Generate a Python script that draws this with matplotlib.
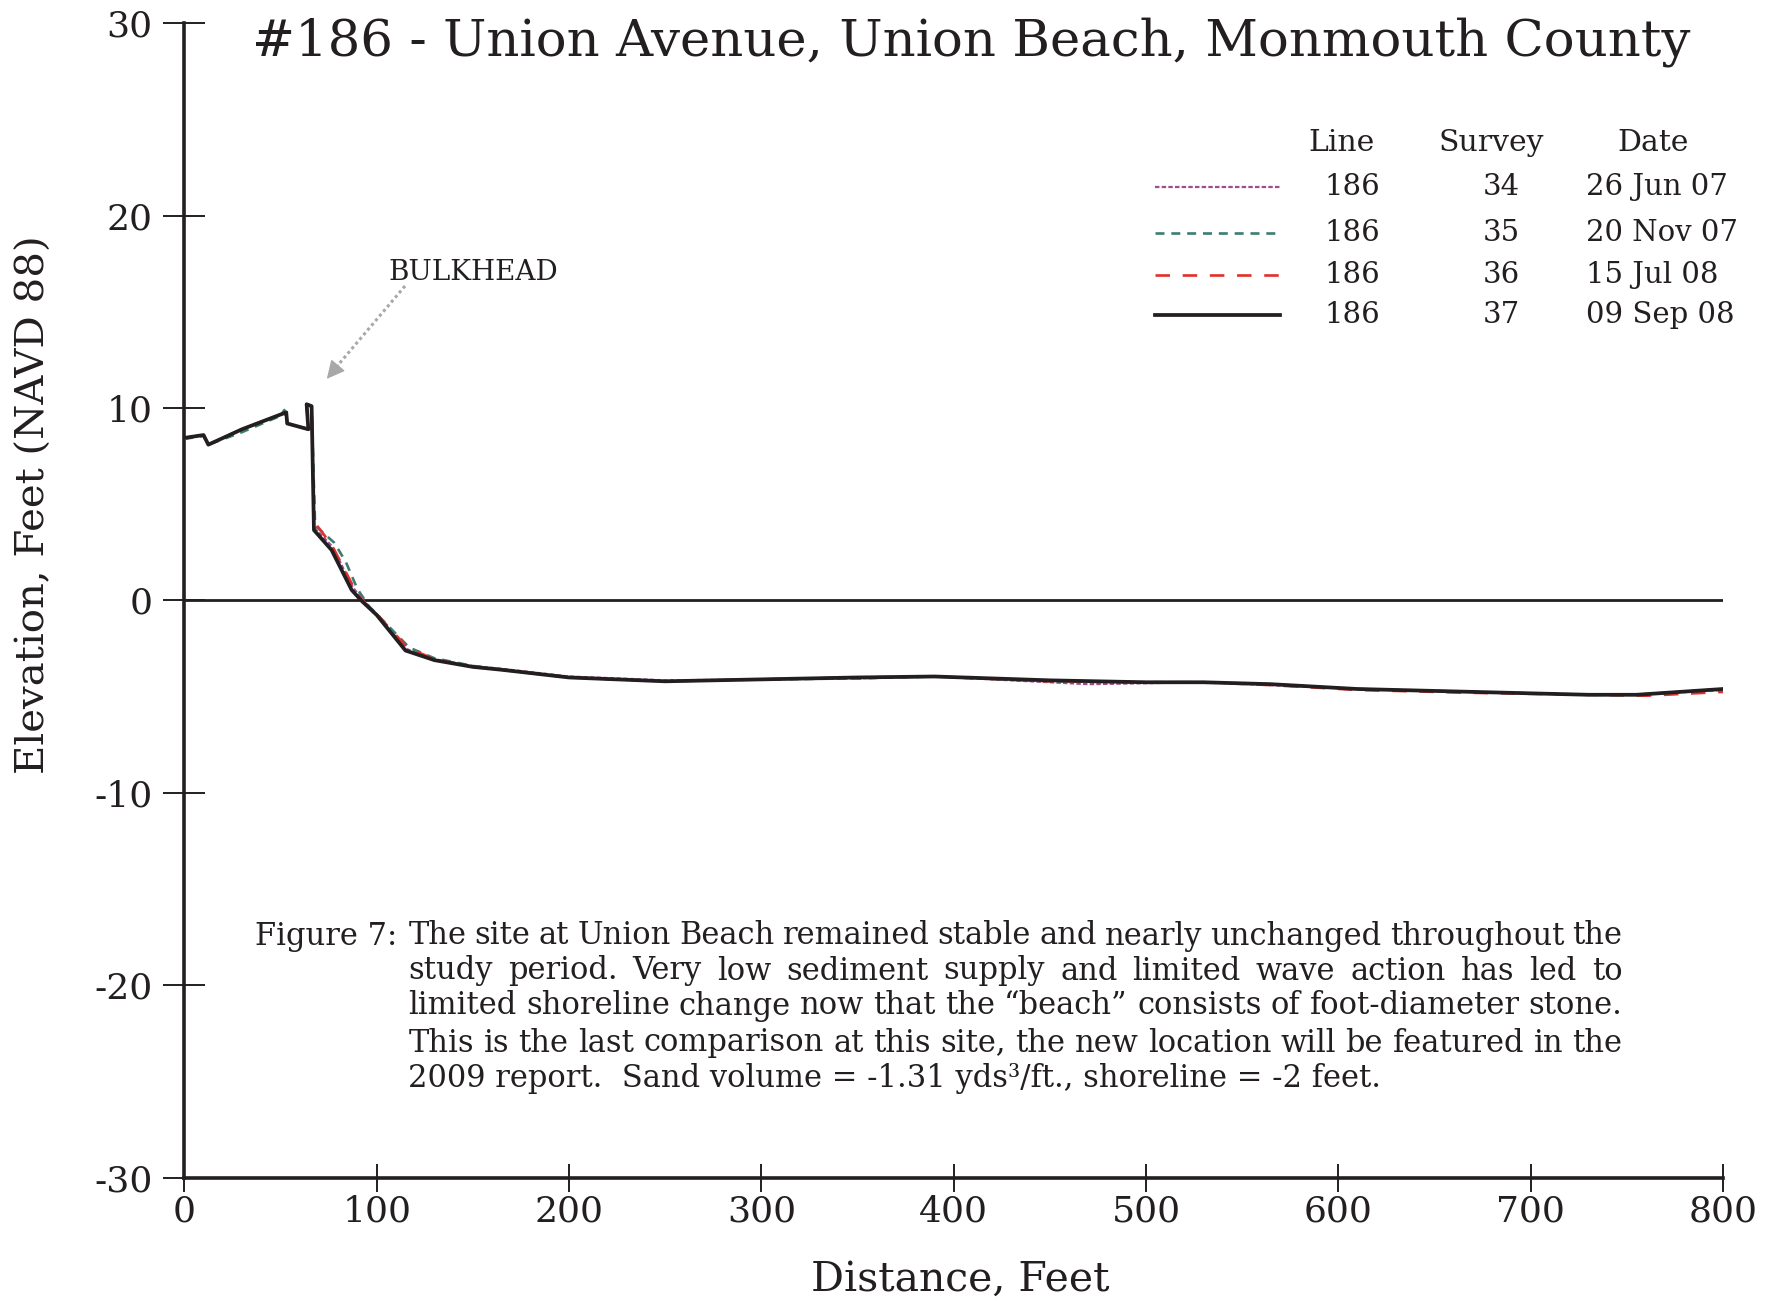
import matplotlib
matplotlib.use("Agg")
import matplotlib.pyplot as plt
from matplotlib.lines import Line2D

plt.rcParams['font.family'] = ['DejaVu Serif']
plt.rcParams['axes.unicode_minus'] = False

# survey profiles, line 186 (distance ft, elevation ft NAVD88)
x34 = [0, 10, 12.5, 30, 53, 53.5, 64.5, 63.6, 66.2, 67.4, 77, 87.5, 93, 100, 115, 130, 150, 165, 200,
       250, 300, 350, 390, 440, 470, 500, 530, 565, 610, 670, 730, 755, 800]
y34 = [8.45, 8.6, 8.1, 8.9, 9.78, 9.2, 8.9, 10.2, 10.1, 3.8, 2.8, 0.7, 0.0, -0.7, -2.5, -3.05, -3.4, -3.55, -3.95,
       -4.15, -4.1, -4.05, -3.95, -4.2, -4.35, -4.3, -4.25, -4.4, -4.6, -4.75, -4.9, -4.9, -4.65]

x35 = [0, 10, 12.5, 30, 50, 52, 53.5, 64.5, 63.6, 66.2, 68, 78, 84, 90, 96, 100, 117, 130, 150, 165, 200,
       250, 300, 350, 390, 450, 500, 530, 565, 610, 670, 730, 755, 800]
y35 = [8.4, 8.55, 8.1, 8.75, 9.6, 9.9, 9.2, 8.9, 10.2, 10.1, 3.9, 3.0, 2.0, 0.6, -0.3, -0.7, -2.45, -3.0, -3.4, -3.6, -4.0,
       -4.2, -4.1, -4.05, -3.95, -4.2, -4.25, -4.25, -4.35, -4.6, -4.75, -4.9, -4.9, -4.6]

x36 = [0, 10, 12.5, 30, 53, 53.5, 64.5, 63.6, 66.2, 67.4, 76.6, 87.5, 92.5, 100, 116, 130, 150, 165, 200,
       250, 300, 350, 390, 450, 500, 530, 565, 610, 670, 730, 760, 800]
y36 = [8.45, 8.6, 8.1, 8.9, 9.78, 9.2, 8.9, 10.2, 10.1, 4.1, 2.9, 0.8, 0.0, -0.7, -2.45, -3.05, -3.45, -3.6, -4.0,
       -4.2, -4.1, -4.0, -3.95, -4.2, -4.25, -4.25, -4.4, -4.65, -4.8, -4.9, -4.95, -4.75]

x37 = [0, 10, 12.5, 30, 53, 53.5, 64.5, 63.6, 66.2, 67.4, 76.6, 87, 92, 100, 115, 130, 150, 165, 200,
       250, 300, 350, 390, 450, 500, 530, 565, 610, 670, 730, 755, 800]
y37 = [8.45, 8.6, 8.1, 8.9, 9.78, 9.2, 8.9, 10.2, 10.1, 3.66, 2.62, 0.55, 0.0, -0.75, -2.6, -3.1, -3.45, -3.6, -4.0,
       -4.2, -4.1, -4.0, -3.95, -4.15, -4.25, -4.25, -4.35, -4.6, -4.75, -4.9, -4.9, -4.6]

lines = ["186", "186", "186", "186"]
surveys = ["34", "35", "36", "37"]
dates = ["26 Jun 07", "20 Nov 07", "15 Jul 08", "09 Sep 08"]

xticks = [0, 100, 200, 300, 400, 500, 600, 700, 800]
yticks = [-30, -20, -10, 0, 10, 20, 30]

caption_lines = [
    "The site at Union Beach remained stable and nearly unchanged throughout the",
    "study period.  Very low sediment supply and limited wave action has led to",
    "limited shoreline change now that the \u201cbeach\u201d consists of foot-diameter stone.",
    "This is the last comparison at this site, the new location will be featured in the",
    "2009 report.  Sand volume = -1.31 yds\u00b3/ft., shoreline = -2 feet.",
]

ink = "#231F20"
styles = [
    dict(color="#9E4D8E", lw=1.6, dashes=(2.0, 1.0)),
    dict(color="#3E7C72", lw=1.9, dashes=(3.4, 2.6)),
    dict(color="#E0312A", lw=1.9, dashes=(5.5, 4.8)),
    dict(color=ink, lw=2.7, linestyle="-"),
]

W, H = 1779, 1301
fig = plt.figure(figsize=(W / 100, H / 100), dpi=100)
ax = fig.add_axes([184.3 / W, 1 - 1177.7 / H, (1723 - 184.3) / W, (1177.7 - 23.3) / H])


def fx(px):
    return px / W


def fy(py):
    return 1 - py / H


for xs, ys, st in zip([x34, x35, x36, x37], [y34, y35, y36, y37], styles):
    ax.plot(xs, ys, **st, zorder=3)

ax.axhline(0, color=ink, lw=2.0, zorder=2)

ax.set_xlim(0, 800)
ax.set_ylim(-30, 30)
ax.set_xticks(xticks)
ax.set_yticks(yticks)
for s in ["top", "right"]:
    ax.spines[s].set_visible(False)
for s in ["left", "bottom"]:
    ax.spines[s].set_linewidth(2.6)
    ax.spines[s].set_color(ink)
ax.tick_params(axis="x", direction="inout", length=20, width=1.4, color=ink, labelsize=26, pad=2, labelcolor=ink)
ax.tick_params(axis="y", direction="inout", length=30, width=1.4, color=ink, labelsize=26, pad=8, labelcolor=ink)

# axis labels
fig.text(fx(960), fy(1280), "Distance, Feet", fontsize=29.5, ha="center", va="center", color=ink)
fig.text(fx(34), fy(505), "Elevation, Feet (NAVD 88)", fontsize=29, rotation=90, ha="center", va="center", color=ink)

# title
fig.text(fx(971), fy(42), "#186 - Union Avenue, Union Beach, Monmouth County", fontsize=37,
         ha="center", va="center", color=ink)

# bulkhead note
gray = "#A8A8A8"
fig.text(fx(388), fy(272), "BULKHEAD", fontsize=20, ha="left", va="center", color=ink)
fig.add_artist(Line2D([fx(405), fx(333)], [fy(286), fy(371)], transform=fig.transFigure,
                      color=gray, lw=2.2, linestyle=(0, (1, 1))))
ax.annotate("", xy=(fx(325), fy(381)), xytext=(fx(340), fy(363)), xycoords="figure fraction",
            textcoords="figure fraction",
            arrowprops=dict(arrowstyle="-|>", color=gray, lw=1, mutation_scale=28))

# legend table
leg_size = 21
fig.text(fx(1342), fy(143), "Line", fontsize=leg_size + 0.5, ha="center", va="center", color=ink)
fig.text(fx(1491), fy(143), "Survey", fontsize=leg_size + 0.5, ha="center", va="center", color=ink)
fig.text(fx(1653), fy(143), "Date", fontsize=leg_size + 0.5, ha="center", va="center", color=ink)
rows_y = [187, 232.6, 274.6, 315.4]
for ry, ln, sv, dt, st in zip(rows_y, lines, surveys, dates, styles):
    fig.add_artist(Line2D([fx(1155), fx(1280)], [fy(ry), fy(ry)], transform=fig.transFigure, **st))
    fig.text(fx(1352), fy(ry), ln, fontsize=leg_size, ha="center", va="center", color=ink)
    fig.text(fx(1501), fy(ry), sv, fontsize=leg_size, ha="center", va="center", color=ink)
    fig.text(fx(1586), fy(ry), dt, fontsize=leg_size, ha="left", va="center", color=ink)

# caption, justified between two edges
cap_size = 22
cap_left, cap_right = 408.5, 1622.5
cap_y = [936, 971, 1006, 1043, 1079]
fig.text(fx(255), fy(cap_y[0]), "Figure 7:", fontsize=cap_size, ha="left", va="center", color=ink)
renderer = fig.canvas.get_renderer()
for i, (text, cy) in enumerate(zip(caption_lines, cap_y)):
    if i == len(caption_lines) - 1:
        fig.text(fx(cap_left), fy(cy), text, fontsize=cap_size, ha="left", va="center", color=ink)
        continue
    words = text.split()
    objs = [fig.text(0, fy(cy), w, fontsize=cap_size, ha="left", va="center", color=ink) for w in words]
    widths = [o.get_window_extent(renderer).width for o in objs]
    gap = (cap_right - cap_left - sum(widths)) / (len(words) - 1)
    xpos = cap_left
    for o, wd in zip(objs, widths):
        o.set_x(fx(xpos))
        xpos += wd + gap

fig.savefig("out.png", dpi=100)
